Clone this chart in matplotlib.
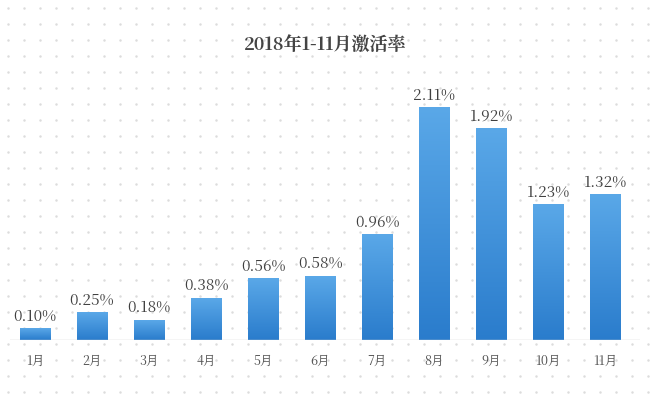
import numpy as np
import matplotlib

matplotlib.use("Agg")
import matplotlib.pyplot as plt
from matplotlib import font_manager
from matplotlib.colors import LinearSegmentedColormap

cjk = [f.name for f in font_manager.fontManager.ttflist if "CJK" in f.name]
cjk_sc = [n for n in cjk if "SC" in n] or cjk
plt.rcParams["font.family"] = (cjk_sc[:1] or []) + ["DejaVu Sans"]

TITLE = "2018年1-11月激活率"
MONTHS = ["1月", "2月", "3月", "4月", "5月", "6月", "7月", "8月", "9月", "10月", "11月"]
RATES = [0.10, 0.25, 0.18, 0.38, 0.56, 0.58, 0.96, 2.11, 1.92, 1.23, 1.32]

fig = plt.figure(figsize=(6.5, 4.0), dpi=100)

# dotted background
bg = fig.add_axes([0, 0, 1, 1], zorder=-5)
gx, gy = np.meshgrid(np.arange(8, 650, 16), np.arange(8, 400, 16))
bg.scatter(gx.ravel(), gy.ravel(), s=0.6, color="#dcdcdc")
bg.set_xlim(0, 650)
bg.set_ylim(400, 0)
bg.axis("off")

ax = fig.add_axes([10 / 650, 60 / 400, 630 / 650, 280 / 400])
ax.patch.set_alpha(0)
x = np.arange(len(MONTHS))
width = 0.53
cmap = LinearSegmentedColormap.from_list("blu", ["#2a7ccc", "#5aa8e8"])
grad = np.linspace(0, 1, 256).reshape(-1, 1)
bars = ax.bar(x, RATES, width=width, color="none")
for b, v in zip(bars, RATES):
    x0 = b.get_x()
    ax.imshow(grad, extent=[x0, x0 + width, 0, v], origin="lower",
              cmap=cmap, aspect="auto", zorder=2)
    ax.text(x0 + width / 2, v + 0.04, f"{v:.2f}%", ha="center", va="bottom",
            fontsize=11, color="#404040")

ax.set_xlim(-0.44, 10.61)
ax.set_ylim(0, 2.545)
ax.axhline(0, color="#cfcfcf", lw=1)
ax.set_xticks(x, MONTHS, fontsize=9, color="#505050")
ax.tick_params(length=0, pad=10)
ax.set_yticks([])
for s in ax.spines.values():
    s.set_visible(False)

fig.text(0.5, 1 - 45 / 400, TITLE, ha="center", va="center", fontsize=13,
         fontweight="bold", color="#444444")
fig.savefig("out.png", dpi=100)
